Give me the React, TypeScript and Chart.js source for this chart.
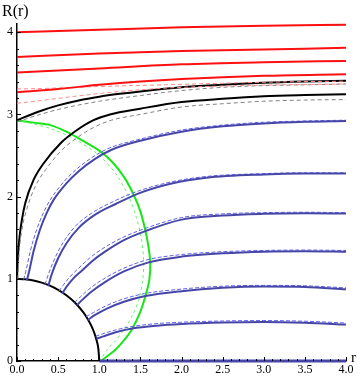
import React, { useEffect, useRef } from 'react';
import { Chart, registerables } from 'chart.js';

Chart.register(...registerables);

type P = [number, number];

// Axis ticks
const xTickValues = [0, 0.5, 1, 1.5, 2, 2.5, 3, 3.5, 4];
const yTickValues = [0, 1, 2, 3, 4];
const xMinorStep = 0.1;
const yMinorStep = 0.2;

// Unit quarter circle
const circleArc: P[] = [
  [0, 1], [0.1, 0.995], [0.2, 0.98], [0.3, 0.954], [0.4, 0.917], [0.5, 0.866],
  [0.6, 0.8], [0.7, 0.714], [0.8, 0.6], [0.85, 0.527], [0.9, 0.436],
  [0.94, 0.341], [0.97, 0.243], [0.99, 0.141], [1, 0],
];

// Red solid curves
const red1: P[] = [[0, 4.0], [1, 4.03], [2, 4.06], [3, 4.08], [4, 4.09]];
const red2: P[] = [[0, 3.7], [1, 3.74], [2, 3.77], [3, 3.79], [4, 3.81]];
const red3: P[] = [[0, 3.51], [1, 3.56], [2, 3.61], [3, 3.635], [4, 3.65]];
const red4: P[] = [[0, 3.27], [0.5, 3.31], [1, 3.36], [1.5, 3.4], [2, 3.43], [3, 3.47], [4, 3.49]];
// Red dashed curves
const redDash1: P[] = [[0, 3.31], [0.3, 3.315], [0.7, 3.33], [1.2, 3.345], [1.8, 3.36], [2.5, 3.38], [3.2, 3.395], [4, 3.405]];
const redDash2: P[] = [[0, 3.135], [0.3, 3.17], [0.7, 3.22], [1.26, 3.28], [1.8, 3.32], [2.5, 3.345], [3.2, 3.36], [4, 3.37]];

// Black curves
const blackUpper: P[] = [[0, 2.93], [0.25, 3.03], [0.5, 3.11], [0.75, 3.17], [1, 3.215], [1.25, 3.25], [1.5, 3.28], [2, 3.33], [2.5, 3.36], [3, 3.385], [3.5, 3.4], [4, 3.41]];
const blackUpperDash: P[] = [[0, 2.91], [0.25, 2.99], [0.5, 3.06], [1, 3.16], [1.5, 3.23], [2, 3.29], [2.5, 3.33], [3, 3.35], [3.5, 3.36], [4, 3.37]];
const blackLower: P[] = [[0, 1.0], [0.01, 1.25], [0.03, 1.5], [0.06, 1.72], [0.1, 1.92], [0.2, 2.2], [0.32, 2.4], [0.53, 2.65], [0.73, 2.81], [0.93, 2.93], [1.13, 3.0], [1.5, 3.07], [2, 3.15], [2.5, 3.19], [3, 3.22], [3.5, 3.235], [4, 3.245]];
const blackLowerDash: P[] = [[0.01, 1.0], [0.025, 1.3], [0.06, 1.6], [0.12, 1.85], [0.22, 2.12], [0.35, 2.33], [0.55, 2.57], [0.75, 2.73], [0.95, 2.85], [1.15, 2.93], [1.5, 3.0], [2, 3.09], [2.5, 3.13], [3, 3.16], [3.5, 3.175], [4, 3.18]];

// Blue solid curves
const blue1: P[] = [[0.12, 0.98], [0.15, 1.1], [0.2, 1.33], [0.28, 1.6], [0.36, 1.8], [0.445, 1.96], [0.6, 2.16], [0.75, 2.31], [0.95, 2.46], [1.15, 2.57], [1.5, 2.68], [2, 2.79], [2.5, 2.855], [3, 2.89], [3.5, 2.91], [4, 2.92]];
const blue2: P[] = [[0.38, 0.91], [0.42, 1.05], [0.5, 1.25], [0.6, 1.43], [0.75, 1.62], [0.95, 1.78], [1.2, 1.91], [1.48, 2.04], [1.88, 2.16], [2.3, 2.23], [3, 2.27], [3.5, 2.28], [4, 2.28]];
const blue3: P[] = [[0.55, 0.82], [0.6, 0.9], [0.68, 1.0], [0.79, 1.1], [0.92, 1.22], [1.07, 1.33], [1.3, 1.47], [1.56, 1.58], [2, 1.72], [2.5, 1.77], [3, 1.79], [3.5, 1.797], [4, 1.795]];
const blue4: P[] = [[0.73, 0.68], [0.8, 0.75], [0.9, 0.84], [1.07, 0.96], [1.3, 1.09], [1.6, 1.2], [2, 1.27], [2.5, 1.31], [3, 1.33], [3.5, 1.335], [4, 1.33]];
const blue5: P[] = [[0.86, 0.5], [0.95, 0.56], [1.1, 0.64], [1.3, 0.72], [1.56, 0.79], [2, 0.85], [2.5, 0.89], [3, 0.905], [3.5, 0.9], [4, 0.873]];
const blue6: P[] = [[0.965, 0.27], [1.05, 0.3], [1.2, 0.35], [1.4, 0.395], [1.7, 0.43], [2, 0.45], [2.5, 0.468], [3, 0.475], [3.5, 0.465], [4, 0.443]];
const blue7: P[] = [[1, 0.0], [4, 0.0]];
// Blue dashed curves
const blueDash1: P[] = [[0.08, 0.99], [0.11, 1.1], [0.16, 1.33], [0.24, 1.6], [0.32, 1.8], [0.41, 1.97], [0.56, 2.17], [0.72, 2.33], [0.92, 2.48], [1.12, 2.59], [1.5, 2.7], [2, 2.81], [2.5, 2.87], [3, 2.905], [3.5, 2.92], [4, 2.93]];
const blueDash2: P[] = [[0.34, 0.93], [0.38, 1.05], [0.46, 1.25], [0.56, 1.44], [0.71, 1.64], [0.91, 1.8], [1.17, 1.94], [1.48, 2.07], [1.88, 2.18], [2.3, 2.245], [3, 2.28], [3.5, 2.29], [4, 2.29]];
const blueDash3: P[] = [[0.51, 0.85], [0.56, 0.92], [0.64, 1.02], [0.75, 1.13], [0.88, 1.25], [1.03, 1.36], [1.28, 1.5], [1.55, 1.61], [2, 1.745], [2.5, 1.79], [3, 1.805], [3.5, 1.81], [4, 1.805]];
const blueDash4: P[] = [[0.7, 0.71], [0.77, 0.78], [0.87, 0.87], [1.04, 0.99], [1.28, 1.12], [1.58, 1.23], [2, 1.295], [2.5, 1.33], [3, 1.345], [3.5, 1.35], [4, 1.345]];
const blueDash5: P[] = [[0.84, 0.54], [0.93, 0.59], [1.08, 0.67], [1.28, 0.75], [1.55, 0.82], [2, 0.875], [2.5, 0.91], [3, 0.92], [3.5, 0.915], [4, 0.89]];
const blueDash6: P[] = [[0.955, 0.3], [1.04, 0.33], [1.19, 0.375], [1.4, 0.42], [1.7, 0.455], [2, 0.472], [2.5, 0.487], [3, 0.492], [3.5, 0.484], [4, 0.462]];
const blueDash7: P[] = [[1, 0.0], [4, 0.0]];

// Green curves
const green: P[] = [[0, 2.93], [0.2, 2.9], [0.405, 2.87], [0.6, 2.79], [0.8, 2.68], [1.0, 2.56], [1.15, 2.43], [1.3, 2.24], [1.42, 2.02], [1.5, 1.82], [1.56, 1.59], [1.6, 1.38], [1.62, 1.2], [1.61, 1.0], [1.57, 0.82], [1.5, 0.6], [1.4, 0.39], [1.3, 0.25], [1.2, 0.14], [1.1, 0.06], [1.02, 0.0]];
const greenDash: P[] = [[0, 2.93], [0.4, 2.83], [0.7, 2.7], [1.0, 2.5], [1.2, 2.28], [1.35, 2.02], [1.45, 1.75], [1.51, 1.5], [1.54, 1.23], [1.53, 1.0], [1.48, 0.74], [1.4, 0.55], [1.32, 0.41], [1.2, 0.25], [1.09, 0.13], [1.01, 0.0]];

const RED = '#ff1010';
const RED_DASH = '#ff8a8a';
const BLACK = '#000000';
const GRAY_DASH = '#808080';
const BLUE = '#4646a8';
const BLUE_DASH = '#6060f0';
const GREEN = '#19e619';
const GREEN_DASH = '#70ee70';

const pts = (a: P[]) => a.map(([x, y]) => ({ x, y }));

function line(data: P[], color: string, width: number, dash: number[] = [], monotone = true) {
  return {
    data: pts(data),
    showLine: true,
    borderColor: color,
    backgroundColor: color,
    borderWidth: width,
    borderDash: dash,
    pointRadius: 0,
    pointHoverRadius: 0,
    tension: monotone ? 0.4 : 0.3,
    cubicInterpolationMode: monotone ? 'monotone' : 'default',
    fill: false,
    clip: 4,
  };
}

const decorPlugin = {
  id: 'decor',
  afterDraw(chart: any) {
    const { ctx } = chart;
    const xs = chart.scales.x;
    const ys = chart.scales.y;
    const x0 = xs.getPixelForValue(0);
    const y0 = ys.getPixelForValue(0);
    ctx.save();
    ctx.strokeStyle = '#000';
    ctx.lineWidth = 1;
    for (let i = 0; i < xTickValues.length; i++) {
      const v = xTickValues[i];
      const px = Math.round(xs.getPixelForValue(v)) + 0.5;
      ctx.beginPath();
      ctx.moveTo(px, y0);
      ctx.lineTo(px, y0 - 4);
      ctx.stroke();
      if (i < xTickValues.length - 1) {
        const next = xTickValues[i + 1];
        for (let m = v + xMinorStep; m < next - 1e-6; m += xMinorStep) {
          const mx = Math.round(xs.getPixelForValue(m)) + 0.5;
          ctx.beginPath();
          ctx.moveTo(mx, y0);
          ctx.lineTo(mx, y0 - 2);
          ctx.stroke();
        }
      }
    }
    const yTop = ys.max;
    for (let i = 0; i < yTickValues.length; i++) {
      const v = yTickValues[i];
      const py = Math.round(ys.getPixelForValue(v)) + 0.5;
      ctx.beginPath();
      ctx.moveTo(x0, py);
      ctx.lineTo(x0 + 4, py);
      ctx.stroke();
      const next = i < yTickValues.length - 1 ? yTickValues[i + 1] : yTop;
      for (let m = v + yMinorStep; m < next - 1e-6; m += yMinorStep) {
        const my = Math.round(ys.getPixelForValue(m)) + 0.5;
        ctx.beginPath();
        ctx.moveTo(x0, my);
        ctx.lineTo(x0 + 2, my);
        ctx.stroke();
      }
    }
    ctx.fillStyle = '#000';
    ctx.textAlign = 'left';
    ctx.textBaseline = 'alphabetic';
    ctx.font = '16px "Liberation Serif"';
    ctx.fillText('R(r)', 2, 16);
    ctx.font = '15px "Liberation Serif"';
    ctx.fillText('r', xs.getPixelForValue(4) + 5, y0 + 1);
    ctx.restore();
  },
};

export default function App() {
  const ref = useRef<HTMLCanvasElement | null>(null);

  useEffect(() => {
    if (!ref.current) return;
    const datasets: any[] = [
      line(red1, RED, 2),
      line(red2, RED, 2),
      line(red3, RED, 2),
      line(red4, RED, 2),
      line(redDash1, RED_DASH, 1, [4, 3]),
      line(redDash2, RED_DASH, 1, [4, 3]),
      line(blackUpperDash, GRAY_DASH, 1, [4, 3]),
      line(blackLowerDash, GRAY_DASH, 1, [4, 3]),
      line(blackUpper, BLACK, 2),
      line(blackLower, BLACK, 2),
      line(blue1, BLUE, 2),
      line(blue2, BLUE, 2),
      line(blue3, BLUE, 2),
      line(blue4, BLUE, 2),
      line(blue5, BLUE, 2),
      line(blue6, BLUE, 2),
      line(blue7, BLUE, 3),
      line(blueDash1, BLUE_DASH, 1, [4, 2]),
      line(blueDash2, BLUE_DASH, 1, [4, 2]),
      line(blueDash3, BLUE_DASH, 1, [4, 2]),
      line(blueDash4, BLUE_DASH, 1, [4, 2]),
      line(blueDash5, BLUE_DASH, 1, [4, 2]),
      line(blueDash6, BLUE_DASH, 1, [4, 2]),
      line(blueDash7, BLUE_DASH, 1, [4, 2]),
      line(greenDash, GREEN_DASH, 1, [3, 3], false),
      line(green, GREEN, 2, [], false),
      line(circleArc, BLACK, 2),
    ];
    const chart = new Chart(ref.current, {
      type: 'scatter',
      data: { datasets },
      options: {
        animation: false,
        responsive: false,
        maintainAspectRatio: false,
        events: [],
        layout: { padding: { top: 24, right: 14, left: 0, bottom: 0 } },
        plugins: { legend: { display: false }, tooltip: { enabled: false } },
        scales: {
          x: {
            type: 'linear',
            min: 0,
            max: 4,
            afterBuildTicks: (s: any) => {
              s.ticks = xTickValues.map((v) => ({ value: v }));
            },
            afterFit: (s: any) => {
              s.height = 17;
            },
            grid: { display: false, drawTicks: false },
            border: { display: true, color: '#000', width: 1.5 },
            ticks: {
              color: '#000',
              padding: 2,
              maxRotation: 0,
              autoSkip: false,
              font: { family: 'Liberation Serif', size: 12 },
              callback: (v: any) => Number(v).toFixed(1),
            },
          },
          y: {
            type: 'linear',
            min: 0,
            max: 4.1,
            afterBuildTicks: (s: any) => {
              s.ticks = yTickValues.map((v) => ({ value: v }));
            },
            afterFit: (s: any) => {
              s.width = 17;
            },
            grid: { display: false, drawTicks: false },
            border: { display: true, color: '#000', width: 1.5 },
            ticks: {
              color: '#000',
              padding: 4,
              font: { family: 'Liberation Serif', size: 12 },
              callback: (v: any) => String(v),
            },
          },
        },
      },
      plugins: [decorPlugin],
    } as any);
    return () => chart.destroy();
  }, []);

  return (
    <div style={{ position: 'absolute', left: 0, top: 0, width: 360, height: 378, background: '#fff' }}>
      <canvas ref={ref} width={360} height={378} style={{ width: 360, height: 378, display: 'block' }} />
    </div>
  );
}
